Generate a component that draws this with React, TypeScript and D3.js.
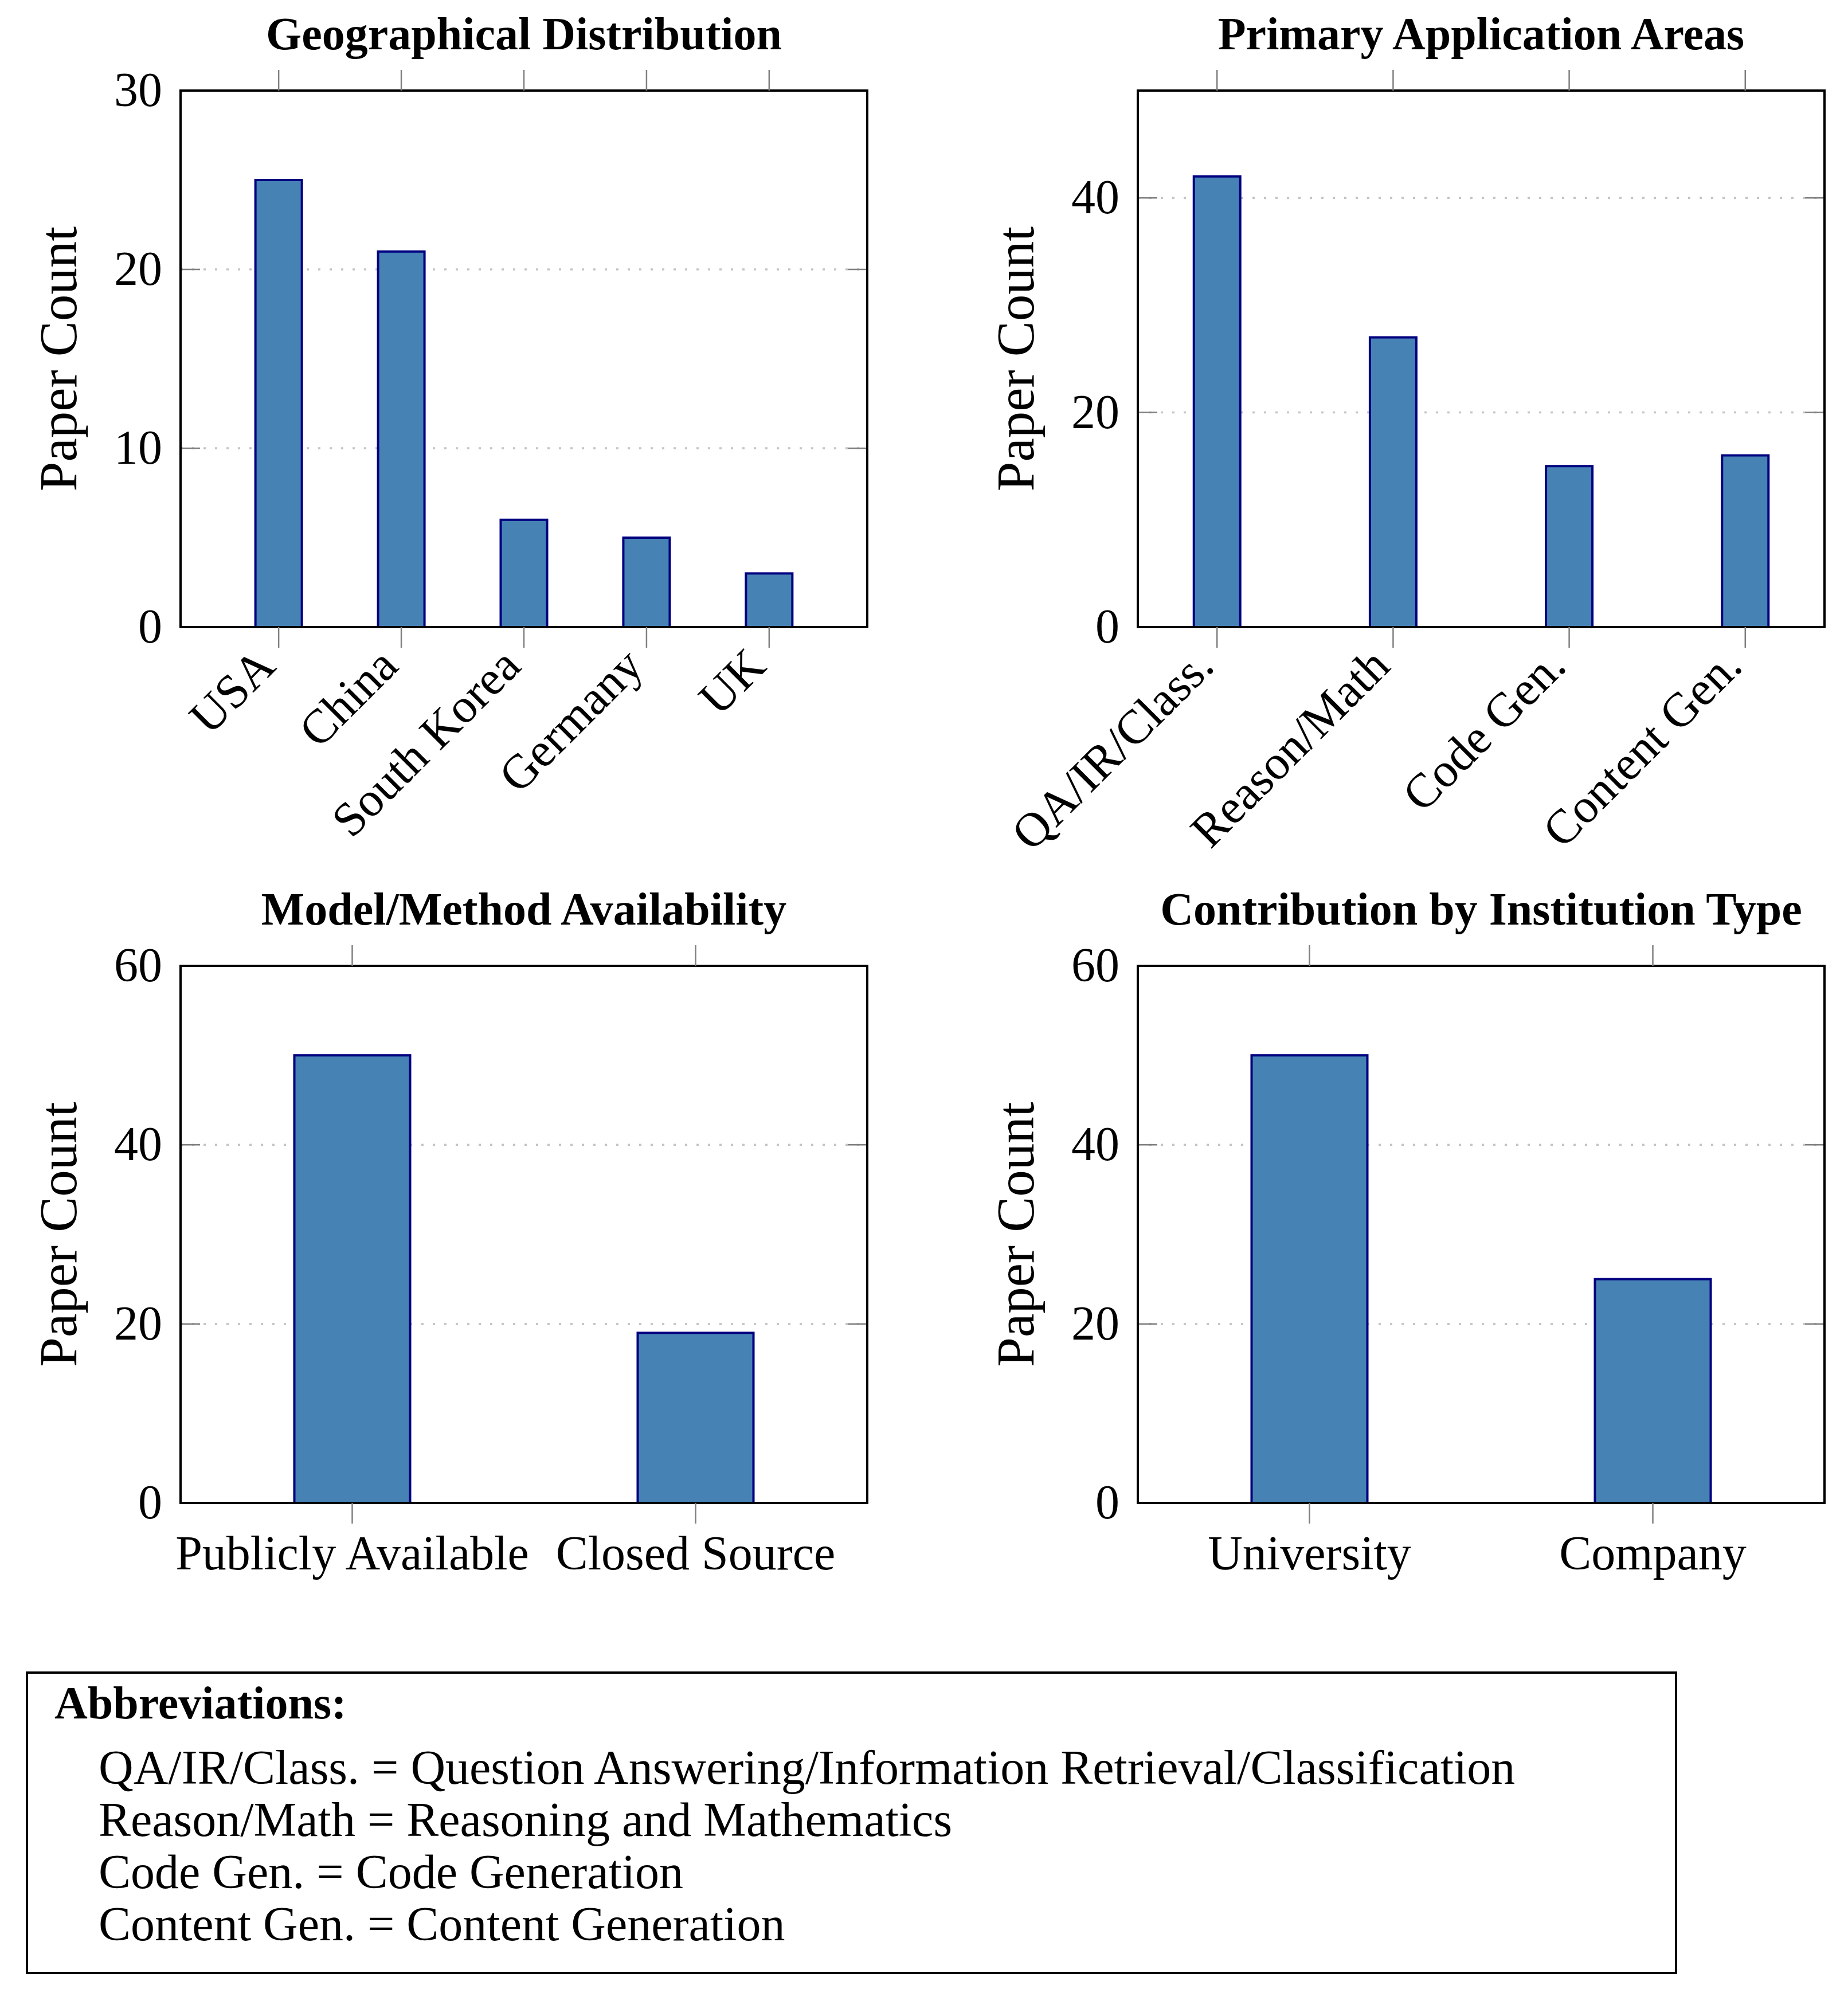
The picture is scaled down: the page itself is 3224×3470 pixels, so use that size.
import React from 'react';
import * as d3 from 'd3';

// chart data
const geoCats = ['USA', 'China', 'South Korea', 'Germany', 'UK'];
const geoVals = [25, 21, 6, 5, 3];
const geoTicks = [0, 10, 20, 30];

const appCats = ['QA/IR/Class.', 'Reason/Math', 'Code Gen.', 'Content Gen.'];
const appVals = [42, 27, 15, 16];
const appTicks = [0, 20, 40];

const availCats = ['Publicly Available', 'Closed Source'];
const availVals = [50, 19];
const availTicks = [0, 20, 40, 60];

const instCats = ['University', 'Company'];
const instVals = [50, 25];
const instTicks = [0, 20, 40, 60];

const abbreviations = [
  'QA/IR/Class. = Question Answering/Information Retrieval/Classification',
  'Reason/Math = Reasoning and Mathematics',
  'Code Gen. = Code Generation',
  'Content Gen. = Content Generation',
];

const FONT = "'Liberation Serif', 'DejaVu Serif', serif";
const BAR_FILL = '#4682b4';
const BAR_STROKE = '#000080';
const TICK_GRAY = '#808080';

interface PanelProps {
  title: string;
  cats: string[];
  vals: number[];
  yMax: number;
  yTicks: number[];
  x0: number;
  x1: number;
  y0: number;
  y1: number;
  pad: number;
  barW: number;
  rotate: boolean;
}

function Panel({ title, cats, vals, yMax, yTicks, x0, x1, y0, y1, pad, barW, rotate }: PanelProps) {
  const x = d3.scaleLinear().domain([-pad, cats.length - 1 + pad]).range([x0, x1]);
  const y = d3.scaleLinear().domain([0, yMax]).range([y1, y0]);

  return (
    <g>
      {/* grid */}
      {yTicks.map(t => (
        <line key={'g' + t} x1={x0} x2={x1} y1={y(t)} y2={y(t)}
          stroke="#c4c4c4" strokeWidth={3.5} strokeDasharray="4 16" />
      ))}
      {/* y ticks, inward on both sides */}
      {yTicks.map(t => (
        <g key={'yt' + t}>
          <line x1={x0} x2={x0 + 34} y1={y(t)} y2={y(t)} stroke={TICK_GRAY} strokeWidth={2.5} />
          <line x1={x1 - 34} x2={x1} y1={y(t)} y2={y(t)} stroke={TICK_GRAY} strokeWidth={2.5} />
          <text x={x0 - 32} y={y(t)} dy={27} textAnchor="end" fontSize={84}>{t}</text>
        </g>
      ))}
      {/* bars */}
      {vals.map((v, i) => (
        <rect key={'b' + i} x={x(i) - barW / 2 + 2} y={y(v)} width={barW - 4} height={y(0) - y(v)}
          fill={BAR_FILL} stroke={BAR_STROKE} strokeWidth={4} />
      ))}
      {/* frame */}
      <rect x={x0} y={y0} width={x1 - x0} height={y1 - y0} fill="none" stroke="#000" strokeWidth={4} />
      {/* x ticks, outward top and bottom */}
      {cats.map((c, i) => (
        <g key={'xt' + i}>
          <line x1={x(i)} x2={x(i)} y1={y0 - 36} y2={y0} stroke={TICK_GRAY} strokeWidth={2.5} />
          <line x1={x(i)} x2={x(i)} y1={y1} y2={y1 + 36} stroke={TICK_GRAY} strokeWidth={2.5} />
          {rotate ? (
            <text transform={`translate(${x(i) - 2},${y1 + 72}) rotate(-45)`} textAnchor="end" fontSize={84}>{c}</text>
          ) : (
            <text x={x(i)} y={y1 + 116} textAnchor="middle" fontSize={84}>{c}</text>
          )}
        </g>
      ))}
      {/* axis label */}
      <text transform={`translate(${x0 - 182},${(y0 + y1) / 2}) rotate(-90)`} textAnchor="middle" fontSize={93}>
        Paper Count
      </text>
      {/* title */}
      <text x={(x0 + x1) / 2} y={y0 - 72} textAnchor="middle" fontSize={80} fontWeight="bold">{title}</text>
    </g>
  );
}

export default function App() {
  return (
    <svg width={3224} height={3470} viewBox="0 0 3224 3470"
      style={{ position: 'absolute', left: 0, top: 0, display: 'block', background: '#fff' }}
      fontFamily={FONT}>
      <rect x={0} y={0} width={3224} height={3470} fill="#fff" />
      <Panel title="Geographical Distribution" cats={geoCats} vals={geoVals} yMax={30} yTicks={geoTicks}
        x0={315} x1={1513} y0={158} y1={1094} pad={0.8} barW={85} rotate />
      <Panel title="Primary Application Areas" cats={appCats} vals={appVals} yMax={50} yTicks={appTicks}
        x0={1985} x1={3183} y0={158} y1={1094} pad={0.45} barW={85} rotate />
      <Panel title="Model/Method Availability" cats={availCats} vals={availVals} yMax={60} yTicks={availTicks}
        x0={315} x1={1513} y0={1685} y1={2622} pad={0.5} barW={206} rotate={false} />
      <Panel title="Contribution by Institution Type" cats={instCats} vals={instVals} yMax={60} yTicks={instTicks}
        x0={1985} x1={3183} y0={1685} y1={2622} pad={0.5} barW={206} rotate={false} />

      {/* abbreviations box */}
      <rect x={47} y={2918} width={2877} height={524} fill="none" stroke="#000" strokeWidth={4} />
      <text x={95} y={2998} fontSize={80} fontWeight="bold">Abbreviations:</text>
      {abbreviations.map((a, i) => (
        <text key={a} x={172} y={3112 + i * 91} fontSize={84}>{a}</text>
      ))}
    </svg>
  );
}
